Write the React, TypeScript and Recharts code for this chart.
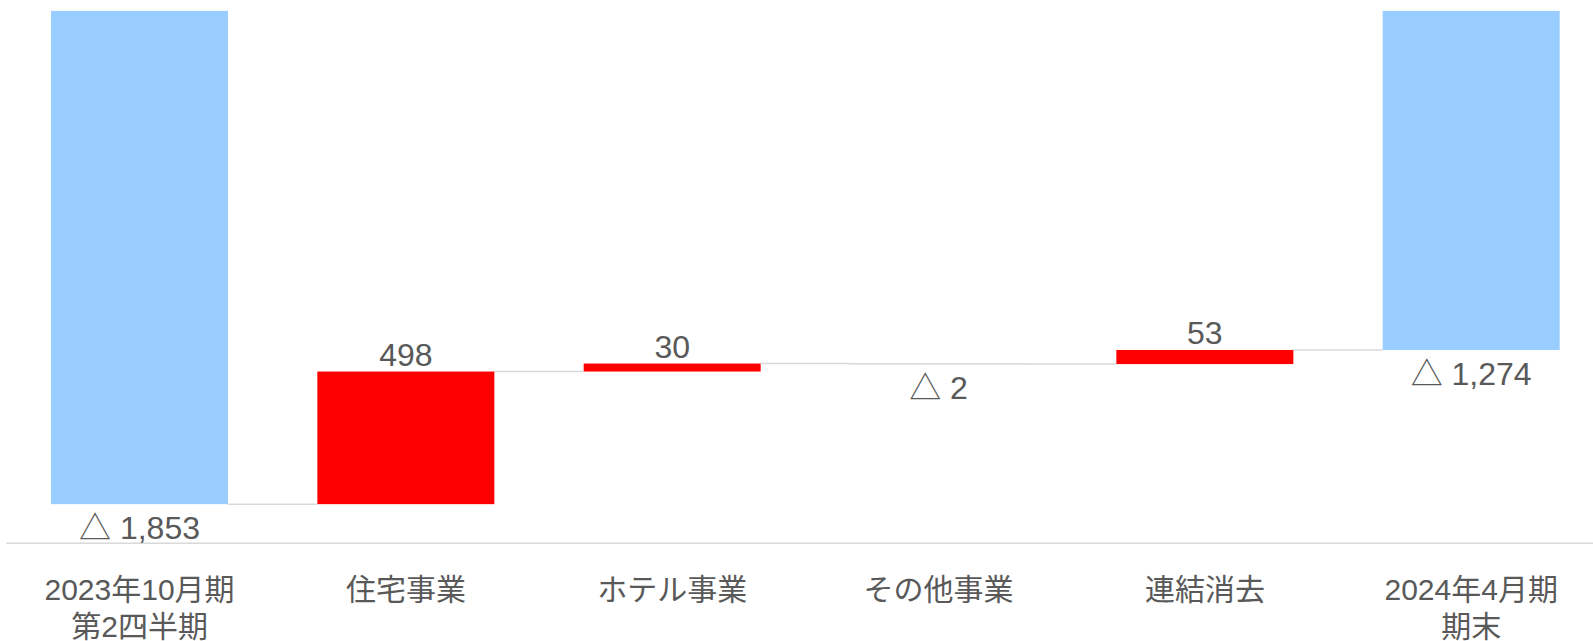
import React from 'react';
import { BarChart, Bar, XAxis, YAxis, LabelList } from 'recharts';

// categories (multi-line labels split with \n)
const categories = [
  '2023年10月期\n第2四半期',
  '住宅事業',
  'ホテル事業',
  'その他事業',
  '連結消去',
  '2024年4月期\n期末',
];

// opening total, step changes, closing total (百万円)
const startTotal = -1853;
const steps = [498, 30, -2, 53];
const endTotal = -1274;

const yDomain = [-2000, 0];

const COLOR_TOTAL = '#99CCFF';
const COLOR_UP = '#FF0000';
const COLOR_DOWN = '#D9D9D9';
const COLOR_LINE = '#D9D9D9';
const TEXT_COLOR = '#595959';
const FONT = '"Liberation Sans", Arial, "Noto Sans CJK JP", sans-serif';
// share of each category band left empty between neighbouring bars
const GAP_RATIO = 0.335;

type Row = {
  name: string;
  kind: 'total' | 'step';
  value: number;
  low: number;
  high: number;
  end: number;
  last: boolean;
};

function buildRows(): Row[] {
  const rows: Row[] = [];
  rows.push({
    name: categories[0],
    kind: 'total',
    value: startTotal,
    low: Math.min(startTotal, 0),
    high: Math.max(startTotal, 0),
    end: startTotal,
    last: false,
  });
  let cum = startTotal;
  steps.forEach((s, i) => {
    const next = cum + s;
    rows.push({
      name: categories[i + 1],
      kind: 'step',
      value: s,
      low: Math.min(cum, next),
      high: Math.max(cum, next),
      end: next,
      last: false,
    });
    cum = next;
  });
  rows.push({
    name: categories[categories.length - 1],
    kind: 'total',
    value: endTotal,
    low: Math.min(endTotal, 0),
    high: Math.max(endTotal, 0),
    end: endTotal,
    last: true,
  });
  return rows;
}

const data = buildRows();

const fmt = (v: number) =>
  v < 0 ? `△ ${Math.abs(v).toLocaleString('en-US')}` : v.toLocaleString('en-US');

function WaterfallBar(props: any) {
  const { x, width, payload } = props;
  let { y, height } = props;
  if (height < 0) {
    y = y + height;
    height = -height;
  }
  const fill =
    payload.kind === 'total' ? COLOR_TOTAL : payload.value >= 0 ? COLOR_UP : COLOR_DOWN;
  const levelY = payload.end === payload.high ? y : y + height;
  const gap = (width * GAP_RATIO) / (1 - GAP_RATIO);
  return (
    <g>
      {!payload.last && (
        <line
          x1={x + width}
          x2={x + width + gap}
          y1={levelY}
          y2={levelY}
          stroke={COLOR_LINE}
          strokeWidth={1.5}
        />
      )}
      <rect
        x={x}
        y={y}
        width={width}
        height={Math.max(height, 0.5)}
        fill={fill}
        stroke={payload.kind === 'step' && payload.value < 0 ? COLOR_DOWN : 'none'}
        strokeWidth={1}
      />
    </g>
  );
}

function ValueLabel(props: any) {
  const { x, width, index } = props;
  let { y, height } = props;
  if (height < 0) {
    y = y + height;
    height = -height;
  }
  const row = data[index];
  if (!row) return null;
  const above = row.value >= 0;
  return (
    <text
      x={x + width / 2}
      y={above ? y - 6 : y + height + 35}
      textAnchor="middle"
      fill={TEXT_COLOR}
      fontSize={32}
      fontFamily={FONT}
    >
      {fmt(row.value)}
    </text>
  );
}

function CategoryTick(props: any) {
  const { x, y, payload } = props;
  const lines = String(payload.value).split('\n');
  return (
    <text x={x} y={y} textAnchor="middle" fill={TEXT_COLOR} fontSize={30} fontFamily={FONT}>
      {lines.map((l, i) => (
        <tspan key={i} x={x} dy={i === 0 ? 49 : 37}>
          {l}
        </tspan>
      ))}
    </text>
  );
}

export default function App() {
  return (
    <div
      style={{
        position: 'fixed',
        left: 0,
        top: 0,
        width: 1593,
        height: 641,
        overflow: 'hidden',
        background: '#fff',
      }}
    >
      <BarChart
        width={1610}
        height={641}
        data={data}
        margin={{ top: 10.7, right: 5.6, bottom: 0, left: 6.4 }}
        barCategoryGap={`${(GAP_RATIO / 2) * 100}%`}
      >
        <XAxis
          dataKey="name"
          interval={0}
          height={97.7}
          tickLine={false}
          axisLine={{ stroke: COLOR_LINE, strokeWidth: 1.5 }}
          tick={<CategoryTick />}
        />
        <YAxis hide type="number" domain={yDomain} allowDataOverflow />
        <Bar
          dataKey={(d: Row) => [d.low, d.high]}
          shape={<WaterfallBar />}
          isAnimationActive={false}
        >
          <LabelList content={<ValueLabel />} />
        </Bar>
      </BarChart>
    </div>
  );
}
